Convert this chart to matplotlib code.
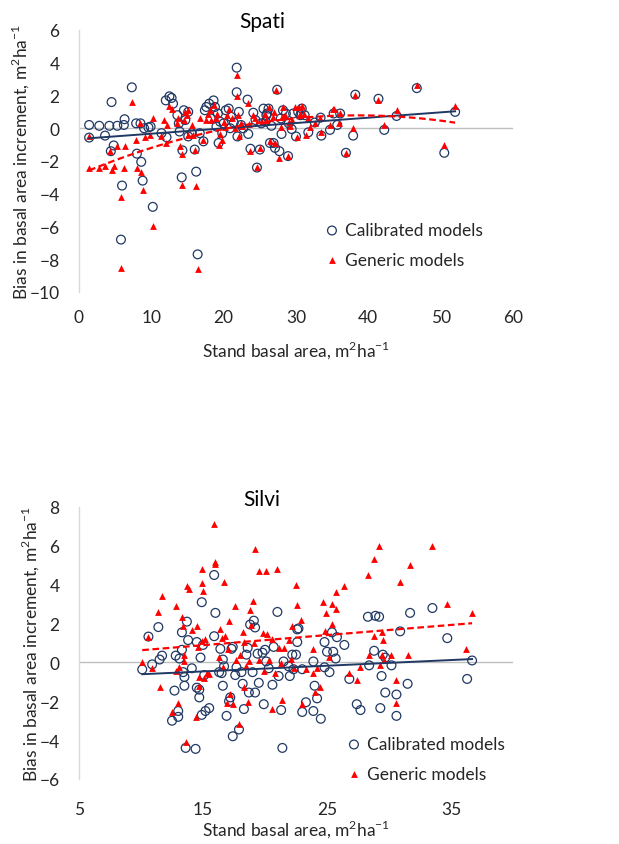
import numpy as np
import matplotlib.pyplot as plt

plt.rcParams['font.family'] = ['Lato', 'DejaVu Sans']
plt.rcParams['mathtext.fontset'] = 'custom'
plt.rcParams['mathtext.rm'] = 'Lato'

NAVY = '#203864'
RED = '#FF0000'
UNIT = r'm$^\mathregular{2}$ha$^\mathregular{-1}$'

# Spati: calibrated model bias vs stand basal area
spati_cal_x = [1.4, 1.4, 2.8, 3.6, 4.2, 4.5, 5.3, 4.8, 4.4, 5.95, 5.8, 6.2, 6.3, 7.3, 7.9, 8.5,
               8.0, 8.6, 8.8, 9.0, 9.6, 9.9, 10.2, 11.4, 12.0, 12.5, 12.8, 13.0, 12.1, 13.6,
               13.8, 13.9, 14.2, 14.3, 14.5, 14.7, 15.1, 15.1, 15.6, 16.0, 16.2, 16.4, 16.7,
               17.2, 17.4, 17.6, 18.0, 18.6, 18.8, 19.0, 19.3, 19.5, 19.8, 20.3, 20.7, 20.9,
               21.4, 21.8, 21.8, 21.9, 22.1, 22.7, 23.3, 23.4, 23.7, 24.1, 24.6, 25.0, 25.2,
               25.5, 25.9, 26.2, 26.4, 26.6, 26.9, 27.1, 27.4, 27.7, 28.0, 28.2, 28.6, 28.9,
               29.4, 29.6, 30.0, 30.3, 30.8, 31.2, 31.7, 32.6, 33.4, 33.5, 34.7, 35.2, 35.7,
               36.1, 36.9, 37.9, 38.2, 41.4, 42.2, 43.9, 46.7, 50.5, 52.0,
               18.2, 19.2, 20.0, 21.0, 22.4, 24.4, 25.8, 26.0, 27.9, 29.0, 30.6]
spati_cal_y = [0.2, -0.57, 0.15, -0.45, 0.15, 1.6, 0.15, -1.05, -1.4, -3.5, -6.8, 0.2, 0.55, 2.5,
               0.3, 0.3, -1.55, -2.05, -3.2, 0.0, 0.05, 0.1, -4.8, -0.3, 1.7, 1.95, 1.85, 1.5,
               -0.55, 0.8, 0.3, -0.2, -3.0, -1.35, 1.1, 0.5, 1.0, -0.5, -0.3, -1.3, -2.65, -7.7,
               -0.3, -0.8, 1.1, 1.3, 1.5, 1.7, 1.3, 0.1, -0.9, 0.4, -0.3, 1.1, 1.2, 0.0, 0.35,
               3.7, 2.2, -0.5, 1.0, 0.0, 1.75, -0.35, -1.25, 0.95, -2.4, -1.3, 0.3, 1.2, 0.8,
               1.2, -0.9, 0.15, -0.9, -1.2, 2.35, -1.4, -0.35, 1.1, 0.9, -1.7, -0.05, 0.9, -0.5,
               1.0, 1.2, 0.8, -0.25, 0.35, 0.65, -0.45, -0.1, 0.9, 0.2, 0.9, -1.5, -0.45, 2.05,
               1.8, -0.1, 0.75, 2.45, -1.5, 1.0,
               0.6, 0.9, 0.3, 0.7, 0.2, 0.5, 0.4, 0.9, 0.6, 0.3, 0.8]

# Spati: generic model bias
spati_gen_x = [1.4, 1.4, 2.8, 3.6, 4.3, 4.5, 4.8, 5.3, 5.8, 5.8, 6.2, 6.3, 7.3, 7.9, 8.0, 8.5,
               8.6, 8.9, 9.1, 9.8, 10.2, 10.2, 11.4, 11.7, 12.0, 12.1, 12.5, 12.9, 13.5, 13.7,
               13.9, 14.2, 14.3, 14.5, 14.7, 14.9, 15.1, 15.1, 15.6, 15.8, 16.0, 16.2, 16.4,
               16.7, 17.2, 17.5, 17.9, 18.1, 18.6, 18.9, 19.3, 19.5, 19.8, 20.2, 20.4, 20.8,
               21.6, 21.8, 21.9, 22.0, 22.1, 22.6, 23.3, 23.5, 23.7, 24.1, 24.6, 25.0, 25.3,
               25.7, 26.2, 26.4, 26.8, 27.1, 27.3, 27.6, 27.9, 28.2, 28.5, 28.9, 29.2, 29.5,
               29.9, 30.1, 30.4, 30.8, 31.1, 31.4, 31.7, 32.0, 32.6, 33.3, 33.4, 34.7, 35.1,
               35.3, 35.9, 36.1, 36.9, 37.9, 38.2, 41.4, 42.2, 43.9, 46.7, 50.5, 52.0,
               18.3, 19.1, 20.0, 21.2, 22.4, 24.4, 25.9, 27.0, 28.0, 29.0, 30.6]
spati_gen_y = [-2.45, -0.45, -2.45, -2.3, -1.4, -2.55, -2.3, -1.1, -4.2, -8.55, -2.45, -1.1, 1.6,
               -0.7, -2.4, 0.3, -2.7, -3.8, -0.55, -0.4, 0.65, -5.95, -0.5, 0.5, -0.9, 0.2, 1.35,
               1.15, 0.3, 0.6, -1.1, -3.45, -1.55, 0.5, 1.0, 0.8, 1.1, -0.4, 0.2, -0.4, -1.3,
               -3.5, -8.6, 0.6, -0.7, 0.5, 0.85, 1.1, 1.4, 0.6, -1.0, -0.35, -0.7, 0.1, 0.8, 1.2,
               0.0, 3.25, 1.95, 0.8, -0.45, 0.15, 1.55, 0.25, -1.4, 0.8, -2.35, -1.2, 0.4, 0.9,
               1.3, -0.8, 0.7, -0.9, 2.35, -1.8, 0.1, 1.3, 0.8, -1.7, 0.15, 0.5, 1.3, -0.55,
               1.3, 1.35, 0.9, -0.4, 0.6, 0.05, 0.3, 0.65, -0.25, 0.2, 1.15, 1.15, 0.35, 0.95,
               -1.5, 0.0, 2.05, 1.7, 0.2, 1.1, 2.65, -1.0, 1.35,
               0.5, 0.9, 0.4, 0.6, 0.3, 0.6, 0.5, 1.0, 0.7, 0.4, 0.9]

# Silvi: calibrated model bias
silvi_cal_x = [10.1, 10.6, 10.9, 11.4, 11.5, 11.7, 12.5, 12.7, 12.8, 13.0, 13.0, 13.1, 13.3,
               13.3, 13.4, 13.5, 13.5, 13.6, 13.7, 13.8, 14.1, 14.4, 14.5, 14.5, 14.7, 14.7,
               14.8, 14.9, 14.9, 15.0, 15.1, 15.2, 15.5, 15.9, 15.9, 16.0, 16.3, 16.4, 16.5,
               16.6, 16.6, 16.7, 16.9, 17.1, 17.2, 17.3, 17.4, 17.4, 17.6, 17.7, 17.9, 18.1,
               18.2, 18.3, 18.5, 18.6, 18.7, 18.8, 19.0, 19.1, 19.2, 19.2, 19.4, 19.5, 19.8,
               19.9, 20.0, 20.1, 20.3, 20.6, 20.7, 21.0, 21.1, 21.3, 21.4, 21.5, 21.9, 22.0,
               22.2, 22.3, 22.5, 22.6, 22.7, 22.6, 23.0, 23.0, 23.3, 23.9, 23.9, 24.0, 24.2,
               24.5, 24.8, 24.8, 25.0, 25.2, 25.4, 25.5, 25.7, 25.8, 26.4, 26.8, 27.4, 27.7,
               28.3, 28.4, 28.8, 28.9, 29.2, 29.3, 29.4, 29.5, 29.7, 29.7, 30.2, 30.6, 30.6,
               30.9, 31.5, 31.7, 33.5, 34.7, 36.3, 36.7]
silvi_cal_y = [-0.36, 1.33, -0.1, 1.82, 0.15, 0.35, -3.0, -1.45, 0.35, -2.5, -2.8, 0.2, 1.55,
               0.65, -0.5, -0.75, -1.2, -4.4, 2.1, 1.15, -0.3, -4.45, -1.3, 1.05, -1.4, -1.8,
               0.25, -2.7, 3.1, 0.9, -0.65, -2.5, -2.35, 1.35, 4.5, 2.55, -0.5, 0.7, -0.55,
               -1.2, 0.15, -0.2, -2.75, -2.0, -1.8, 0.7, -3.8, 0.8, -0.65, -0.25, -3.45, -0.5,
               -1.1, -2.4, 0.4, 0.75, -1.55, 1.95, -0.5, 2.15, -1.55, 1.8, 0.45, -1.05, 0.5,
               -2.15, 0.65, 0.05, -0.3, -1.15, 0.8, 2.6, -0.7, -2.45, -4.4, 0.05, -0.2, -0.7,
               0.4, -0.35, 0.4, 1.7, 1.75, 1.05, -2.55, -0.35, -2.05, 0.05, -2.5, -1.2, -1.85,
               -2.9, 1.05, -0.25, 0.55, -0.5, 1.55, 0.55, 0.2, 1.3, 0.9, -0.85, -2.15, -2.45,
               2.35, -0.15, 0.6, 2.4, 2.35, -2.35, -0.7, 0.4, 0.25, -1.55, -0.15, -1.65, -2.75,
               1.6, -1.1, 2.55, 2.8, 1.25, -0.85, 0.1]

# Silvi: generic model bias
silvi_gen_x = [10.1, 10.6, 10.9, 11.4, 11.5, 11.7, 12.5, 12.8, 12.8, 13.0, 13.1, 13.3, 13.4,
               13.5, 13.5, 13.6, 13.7, 13.9, 14.1, 14.4, 14.5, 14.6, 14.7, 14.7, 14.9, 14.9,
               14.9, 15.0, 15.1, 15.2, 15.3, 15.5, 15.9, 16.0, 16.0, 16.3, 16.4, 16.5, 16.6,
               16.7, 16.8, 16.9, 17.0, 17.1, 17.2, 17.4, 17.6, 17.7, 17.9, 18.0, 18.2, 18.3,
               18.3, 18.5, 18.6, 18.7, 18.8, 18.9, 19.0, 19.1, 19.2, 19.5, 19.5, 19.8, 19.9,
               20.1, 20.2, 20.3, 20.6, 20.6, 20.8, 21.0, 21.1, 21.3, 21.4, 21.5, 21.9, 22.1,
               22.2, 22.3, 22.5, 22.6, 22.9, 23.0, 23.3, 23.9, 23.9, 24.0, 24.2, 24.4, 24.7,
               24.8, 24.9, 25.2, 25.4, 25.4, 25.7, 25.7, 26.4, 26.8, 27.4, 27.7, 28.3, 28.4,
               28.8, 28.8, 29.2, 29.3, 29.4, 29.4, 29.5, 29.6, 30.2, 30.6, 30.6, 30.9, 31.5,
               31.7, 33.5, 34.7, 36.2, 36.7]
silvi_gen_y = [0.0, 1.3, -0.3, 2.6, -1.25, 3.4, -2.55, 2.9, -0.45, -2.1, -0.25, 2.35, 1.85,
               0.4, 0.05, -4.1, 3.95, 3.8, 1.65, -2.8, 1.85, 0.8, -0.75, -1.2, 1.1, 4.8, 4.1,
               3.7, -0.8, 1.2, -0.55, -0.6, 7.15, 5.05, 5.15, 0.3, 1.7, 1.25, -0.25, 4.15, 1.35,
               -2.1, 0.7, 2.15, -1.6, -2.15, 2.9, 0.1, -3.15, 0.4, 1.55, -1.25, 1.05, -0.2,
               -2.05, 0.05, 2.7, 1.95, 3.15, 1.0, 5.85, 4.7, 0.1, 1.5, -0.45, 4.7, 1.45, 0.15,
               1.2, -2.4, -0.55, 4.8, 0.75, -0.05, -1.95, 0.75, 1.15, 0.2, 1.85, -0.3, 4.0,
               2.95, 2.2, -2.15, -0.35, 0.7, -0.55, -1.5, -0.3, -1.25, 3.1, 1.6, 2.55, 0.3, 2.0,
               3.0, 2.75, 3.6, 3.95, -0.55, -0.9, -0.25, 4.5, 0.4, 1.35, 5.3, 6.0, -0.15, 1.55,
               0.4, 1.15, 0.1, 0.4, -2.1, -0.9, 4.15, 0.4, 5.0, 6.0, 3.0, 0.7, 2.55]


def draw_panel(ax, title, title_y, cal_x, cal_y, gen_x, gen_y, gen_deg, xlim, ylim, xticks,
               yticks, xpad, xlabelpad, leg_xy):
    cal_x = np.array(cal_x)
    cal_y = np.array(cal_y)
    gen_x = np.array(gen_x)
    gen_y = np.array(gen_y)

    ax.axhline(0, color='#BFBFBF', lw=1.0, zorder=1)
    ax.scatter(cal_x, cal_y, s=40, facecolors='none', edgecolors=NAVY, linewidths=0.9,
               zorder=3, label='Calibrated models')
    ax.scatter(gen_x, gen_y, s=24, marker='^', color=RED, linewidths=0, zorder=4,
               label='Generic models')

    # fitted trend lines over the range of each series
    xs = np.linspace(cal_x.min(), cal_x.max(), 100)
    ax.plot(xs, np.polyval(np.polyfit(cal_x, cal_y, 1), xs), color=NAVY, lw=1.4, zorder=5)
    xs = np.linspace(gen_x.min(), gen_x.max(), 100)
    ax.plot(xs, np.polyval(np.polyfit(gen_x, gen_y, gen_deg), xs), color=RED, lw=1.6,
            ls=(0, (3, 1.6)), zorder=5)

    ax.set_xlim(*xlim)
    ax.set_ylim(*ylim)
    ax.set_xticks(xticks)
    ax.set_yticks(yticks)
    ax.tick_params(length=0, labelsize=12.5, colors='#262626')
    ax.tick_params(axis='x', pad=xpad)
    ax.tick_params(axis='y', pad=14)
    for s in ['top', 'right', 'bottom']:
        ax.spines[s].set_visible(False)
    ax.spines['left'].set_color('#D9D9D9')
    ax.spines['left'].set_linewidth(1.0)

    ax.set_xlabel('Stand basal area, ' + UNIT, fontsize=12.5, color='#262626',
                  labelpad=xlabelpad)
    ax.set_ylabel('Bias in basal area increment, ' + UNIT, fontsize=12.5, color='#262626',
                  labelpad=-1)
    fig.text(262 / 619, title_y, title, fontsize=15, ha='center', va='center',
             color='black')
    ax.legend(loc='center left', bbox_to_anchor=leg_xy, bbox_transform=fig.transFigure,
              frameon=False, fontsize=12.5, handlelength=0.8, handletextpad=0.35,
              labelspacing=0.8, borderpad=0, borderaxespad=0, labelcolor='#262626')


fig = plt.figure(figsize=(6.19, 8.45), dpi=100)
ax1 = fig.add_axes([79 / 619, 1 - 293 / 845, 434 / 619, 262 / 845])
ax2 = fig.add_axes([79 / 619, 1 - 780 / 845, 434 / 619, 272 / 845])

draw_panel(ax1, 'Spati', 1 - 22 / 845, spati_cal_x, spati_cal_y, spati_gen_x, spati_gen_y, 2,
           (0, 60), (-10, 6), range(0, 61, 10), range(-10, 7, 2), 12.5, 9,
           (325 / 619, 1 - 246 / 845))
draw_panel(ax2, 'Silvi', 1 - 500 / 845, silvi_cal_x, silvi_cal_y, silvi_gen_x, silvi_gen_y, 1,
           (5, 40), (-6, 8), range(5, 36, 10), range(-6, 9, 2), 16, 0,
           (347 / 619, 1 - 760 / 845))

fig.savefig('out.png', dpi=100)
